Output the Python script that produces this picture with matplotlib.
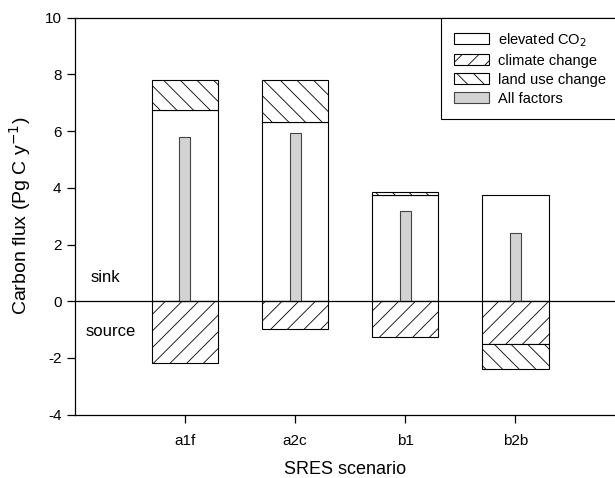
import numpy as np
import matplotlib
matplotlib.use("Agg")
from matplotlib import pyplot as plt
from matplotlib.patches import Patch

plt.rcParams['font.family'] = ['Liberation Sans', 'DejaVu Sans']
plt.rcParams['hatch.linewidth'] = 0.6
plt.rcParams['axes.unicode_minus'] = False

scenarios = ['a1f', 'a2c', 'b1', 'b2b']
co2 = [6.73, 6.33, 3.73, 3.76]
climate = [-2.19, -0.99, -1.26, -1.52]
landuse = [1.09, 1.47, 0.11, -0.88]
all_factors = [5.81, 5.93, 3.17, 2.39]

x = np.arange(1, len(scenarios) + 1)
co2 = np.array(co2)
climate = np.array(climate)
landuse = np.array(landuse)

fig = plt.figure(figsize=(6.15, 4.78), dpi=100)
ax = fig.add_axes([0.1215, 0.1324, 0.8785, 0.8306])

w = 0.6
# land use sits on top of CO2 when positive, below climate when negative
lu_bottom = np.where(landuse > 0, co2, climate)

ax.bar(x, co2, w, color='white', edgecolor='black', linewidth=0.8)
ax.bar(x, climate, w, color='white', edgecolor='black', linewidth=0.8, hatch='//')
ax.bar(x, landuse, w, bottom=lu_bottom, color='white', edgecolor='black',
       linewidth=0.8, hatch='\\\\')
ax.bar(x, all_factors, 0.1, color='#d3d3d3', edgecolor='#444444', linewidth=0.8)

ax.axhline(0, color='black', linewidth=0.9)

ax.text(0.14, 0.85, 'sink', fontsize=12, va='center')
ax.text(0.10, -1.05, 'source', fontsize=12, va='center')

ax.set_xlim(0, 4.903)
ax.set_ylim(-4, 10)
ax.set_xticks(x)
ax.set_xticklabels(scenarios)
ax.set_yticks(np.arange(-4, 11, 2))
ax.tick_params(direction='out', length=6, width=0.9, labelsize=11, colors='black')
ax.tick_params(axis='x', pad=8)
ax.spines['right'].set_visible(False)
for s in ['left', 'top', 'bottom']:
    ax.spines[s].set_linewidth(0.9)

ax.set_xlabel('SRES scenario', fontsize=13, labelpad=9)
ax.set_ylabel('Carbon flux (Pg C y$^{-1}$)', fontsize=14, labelpad=8)

handles = [
    Patch(facecolor='white', edgecolor='black', linewidth=0.8, label='elevated CO$_2$'),
    Patch(facecolor='white', edgecolor='black', linewidth=0.8, hatch='//', label='climate change'),
    Patch(facecolor='white', edgecolor='black', linewidth=0.8, hatch='\\\\', label='land use change'),
    Patch(facecolor='#d3d3d3', edgecolor='#444444', linewidth=0.8, label='All factors'),
]
leg = ax.legend(handles=handles, loc='upper left', bbox_to_anchor=(0.678, 0, 0.5, 1),
                mode='expand', borderaxespad=0, fontsize=10.5, handlelength=2.4,
                handleheight=0.8, labelspacing=0.35, handletextpad=0.6,
                borderpad=0.9, fancybox=False, framealpha=1)
leg.get_frame().set_edgecolor('black')
leg.get_frame().set_linewidth(0.8)

fig.savefig('out.png', dpi=100)
